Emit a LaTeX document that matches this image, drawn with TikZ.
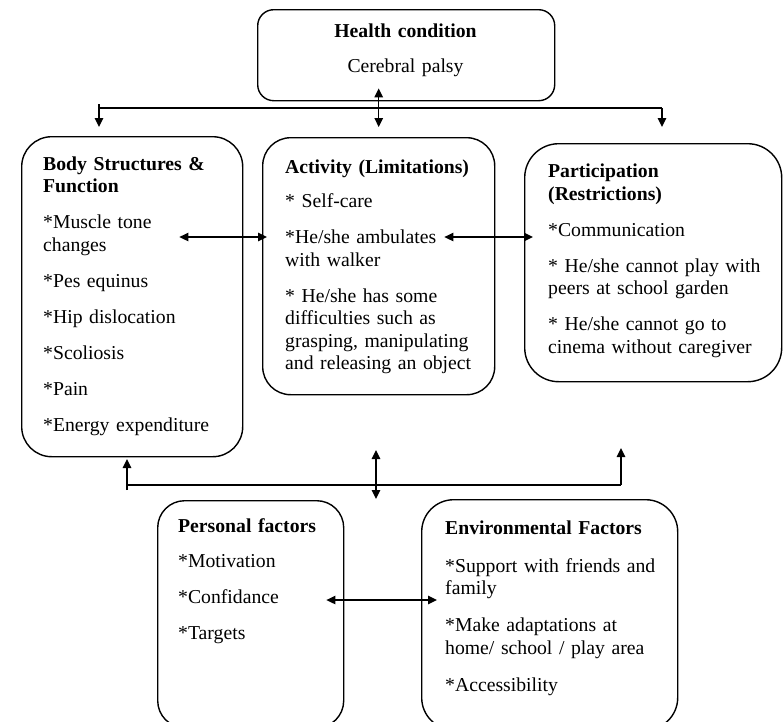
\documentclass[tikz,border=0pt]{standalone}
\usepackage{fontspec}
\setmainfont{Liberation Serif}
\usetikzlibrary{arrows.meta,calc}
\begin{document}
\begin{tikzpicture}[x=1pt,y=-1pt,
  box/.style={draw, line width=1.4pt, inner sep=0pt, anchor=north west},
  txt/.style={anchor=base west, inner sep=0pt, align=left, text width=255pt,
              font=\fontsize{19.7}{22.5}\selectfont},
  ctxt/.style={anchor=base, inner sep=0pt, align=center, text width=280pt,
              font=\fontsize{19.7}{22.5}\selectfont},
  link/.style={line width=1.3pt},
  arr/.style={link, -{Triangle[length=9pt,width=8.5pt]}},
  dbl/.style={link, {Triangle[length=9pt,width=8.5pt]}-{Triangle[length=9pt,width=8.5pt]}}]
\useasboundingbox (0,0) rectangle (784,721);
\clip (0,0) rectangle (784,721);

% boxes
\node[box, rounded corners=16pt, minimum width=297pt, minimum height=91pt] (health) at (257,9) {};
\node[box, rounded corners=30pt, minimum width=221pt, minimum height=320pt] (body) at (21,136) {};
\node[box, rounded corners=28pt, minimum width=232pt, minimum height=257pt] (activity) at (262,137) {};
\node[box, rounded corners=34pt, minimum width=257pt, minimum height=238pt] (part) at (524,143) {};
\node[box, rounded corners=27pt, minimum width=186pt, minimum height=227pt] (personal) at (157,500) {};
\node[box, rounded corners=32pt, minimum width=256pt, minimum height=230pt] (env) at (421,499) {};

% texts
\node[ctxt] (healthtxt) at (405.5,37.5) {\textbf{Health condition}\\[12.5pt]Cerebral palsy};
\node[txt] (bodytxt) at (43,170) {\textbf{Body Structures \&}\\\textbf{Function}\\[13.5pt]*Muscle tone\\changes\\[13.5pt]*Pes equinus\\[13.5pt]*Hip dislocation\\[13.5pt]*Scoliosis\\[13.5pt]*Pain\\[13.5pt]*Energy expenditure};
\node[txt] (activitytxt) at (285,173.5) {\textbf{Activity (Limitations)}\\[11.5pt]* Self-care\\[13.5pt]*He/she ambulates\\with walker\\[13.5pt]* He/she has some\\difficulties such as\\grasping, manipulating\\and releasing an object};
\node[txt] (parttxt) at (548,177.5) {\textbf{Participation}\\\textbf{(Restrictions)}\\[13.5pt]*Communication\\[13.5pt]* He/she cannot play with\\peers at school garden\\[13.5pt]* He/she cannot go to\\cinema without caregiver};
\node[txt] (personaltxt) at (178,532.5) {\textbf{Personal factors}\\[12.5pt]*Motivation\\[13.5pt]*Confidance\\[13.5pt]*Targets};
\node[txt] (envtxt) at (445,534.5) {\textbf{Environmental Factors}\\[15pt]*Support with friends and\\family\\[14.5pt]*Make adaptations at\\home/ school / play area\\[14.5pt]*Accessibility};

% top distribution line
\coordinate (tbL) at (99,108);
\coordinate (tbR) at (662,108);
\coordinate (tbLtop) at (99,104);
\coordinate (tbLend) at (99,127);
\coordinate (tbRend) at (662,127);
\draw[link] (tbL) -- (tbR);
\draw[arr] (tbLtop) -- (tbLend);
\draw[arr] (tbR) -- (tbRend);
\draw[dbl] ($(activity.north |- health.south)+(0,-13)$) -- ($(activity.north)+(0,-10)$);

% horizontal links in the middle row
\coordinate (midrow) at (0,237);
\draw[dbl] ($(body.east |- midrow)+(-64,0)$) -- ($(activity.west |- midrow)+(5,0)$);
\draw[dbl] ($(activity.east |- midrow)+(-51,0)$) -- ($(part.west |- midrow)+(9,0)$);

% bottom distribution line
\coordinate (bbL) at (127,485);
\coordinate (bbR) at (621,485);
\coordinate (bbLlow) at (127,490);
\coordinate (bbLend) at (127,459);
\coordinate (bbRend) at (621,448);
\coordinate (cbT) at (376,450);
\coordinate (cbB) at (376,499);
\draw[link] (bbL) -- (bbR);
\draw[arr] (bbLlow) -- (bbLend);
\draw[arr] (bbR) -- (bbRend);
\draw[dbl] (cbT) -- (cbB);

% personal <-> environmental
\coordinate (lowrow) at (0,600);
\draw[dbl] ($(personal.east |- lowrow)+(-18,0)$) -- ($(env.west |- lowrow)+(16,0)$);
\end{tikzpicture}
\end{document}
